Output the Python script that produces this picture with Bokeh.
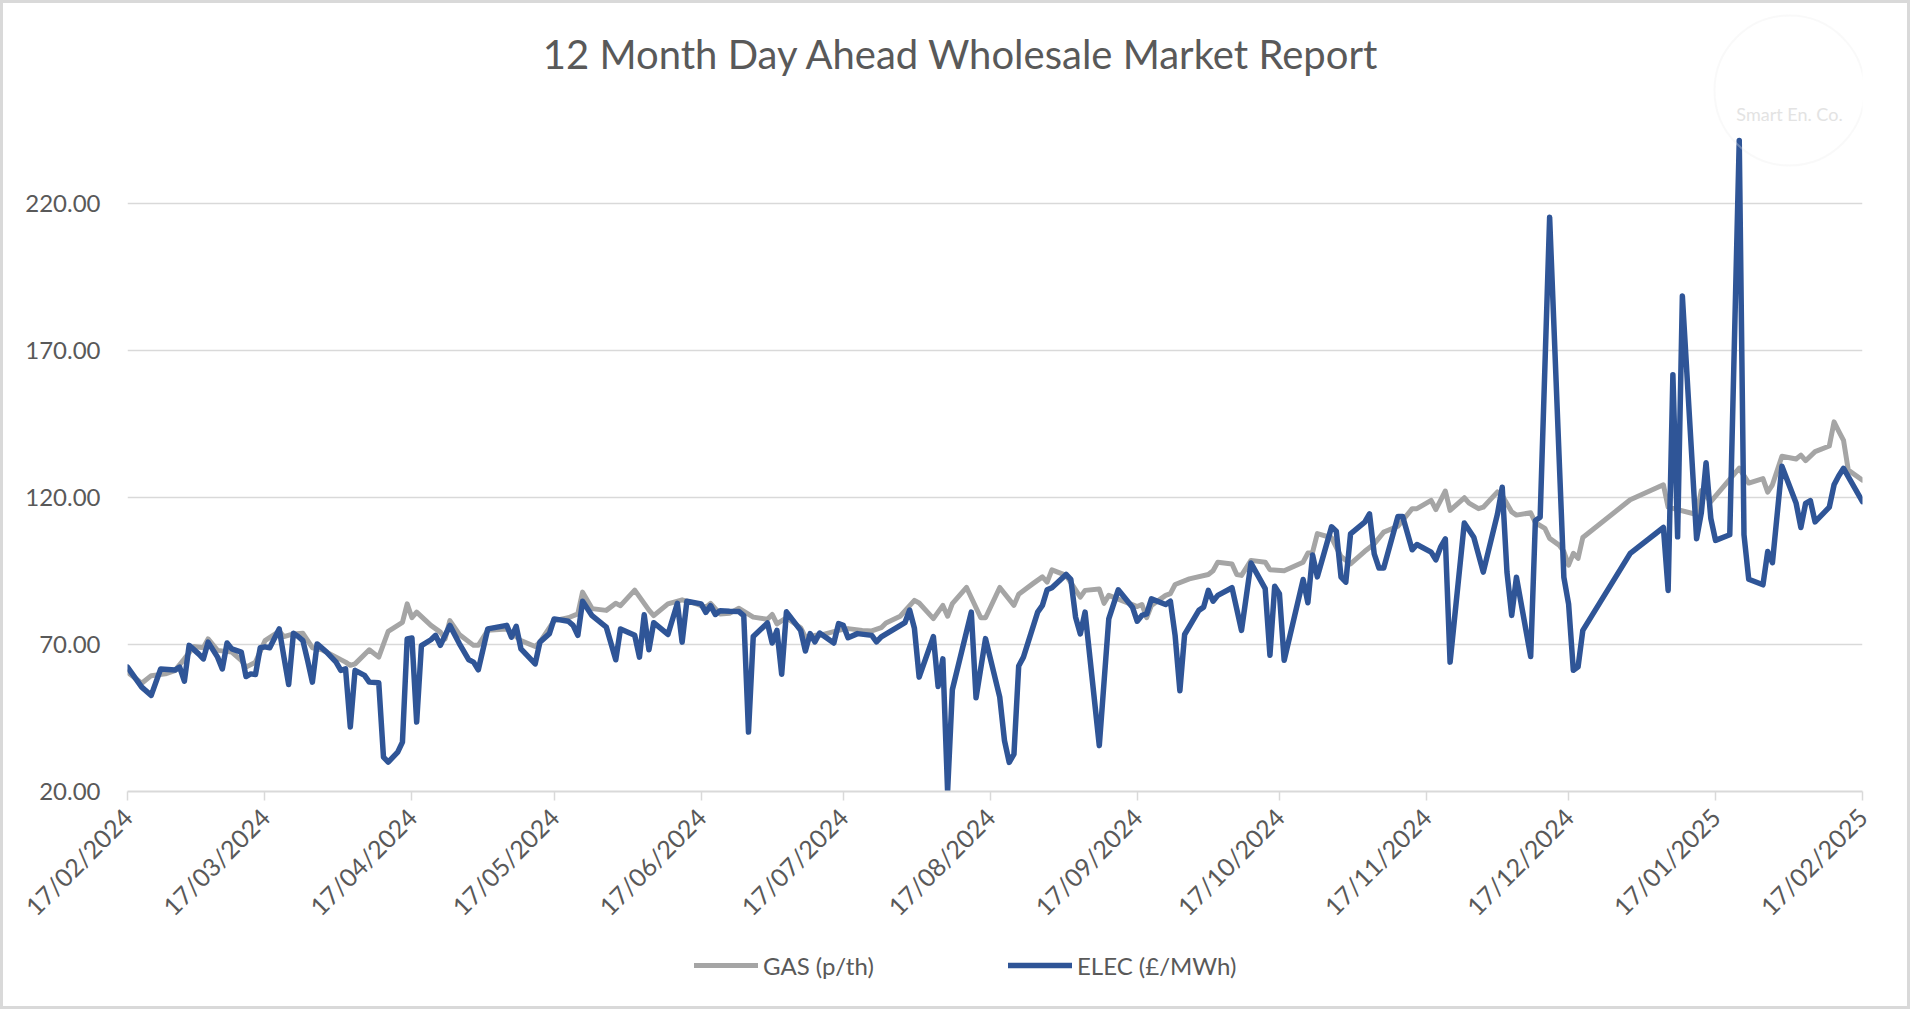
import pandas as pd
from math import pi
from bokeh.plotting import figure
from bokeh.layouts import column
from bokeh.models import (Range1d, FixedTicker, DatetimeTickFormatter, NumeralTickFormatter,
                          Legend, LegendItem, Label, BoxAnnotation, ColumnDataSource)
from bokeh.embed import file_html
from bokeh.resources import INLINE

# ---------------- data ----------------
title_text = "12 Month Day Ahead Wholesale Market Report"
series_names = ["GAS (p/th)", "ELEC (£/MWh)"]
tick_dates = ["2024-02-17", "2024-03-17", "2024-04-17", "2024-05-17", "2024-06-17", "2024-07-17",
              "2024-08-17", "2024-09-17", "2024-10-17", "2024-11-17", "2024-12-17", "2025-01-17",
              "2025-02-17"]
y_ticks = [20, 70, 120, 170, 220]

elec_dates = [
    "2024-02-17", "2024-02-20", "2024-02-22", "2024-02-24", "2024-02-27", "2024-02-28", "2024-02-29",
    "2024-03-01", "2024-03-03", "2024-03-04", "2024-03-05", "2024-03-07", "2024-03-08", "2024-03-09",
    "2024-03-10", "2024-03-12", "2024-03-13", "2024-03-14", "2024-03-15", "2024-03-16", "2024-03-17",
    "2024-03-18", "2024-03-20", "2024-03-21", "2024-03-22", "2024-03-23", "2024-03-24", "2024-03-25",
    "2024-03-26", "2024-03-27", "2024-03-28", "2024-03-30", "2024-04-01", "2024-04-02", "2024-04-03",
    "2024-04-04", "2024-04-05", "2024-04-07", "2024-04-08", "2024-04-10", "2024-04-11", "2024-04-12",
    "2024-04-14", "2024-04-15", "2024-04-16", "2024-04-17", "2024-04-18", "2024-04-19", "2024-04-21",
    "2024-04-22", "2024-04-23", "2024-04-25", "2024-04-27", "2024-04-29", "2024-04-30", "2024-05-01",
    "2024-05-03", "2024-05-07", "2024-05-08", "2024-05-09", "2024-05-10", "2024-05-13", "2024-05-14",
    "2024-05-16", "2024-05-17", "2024-05-20", "2024-05-21", "2024-05-22", "2024-05-23", "2024-05-25",
    "2024-05-28", "2024-05-30", "2024-05-31", "2024-06-03", "2024-06-04", "2024-06-05", "2024-06-06",
    "2024-06-07", "2024-06-10", "2024-06-12", "2024-06-13", "2024-06-14", "2024-06-17", "2024-06-18",
    "2024-06-19", "2024-06-20", "2024-06-21", "2024-06-23", "2024-06-25", "2024-06-26", "2024-06-27",
    "2024-06-28", "2024-07-01", "2024-07-02", "2024-07-03", "2024-07-04", "2024-07-05", "2024-07-08",
    "2024-07-09", "2024-07-10", "2024-07-11", "2024-07-12", "2024-07-15", "2024-07-16", "2024-07-17",
    "2024-07-18", "2024-07-20", "2024-07-23", "2024-07-24", "2024-07-25", "2024-07-30", "2024-07-31",
    "2024-08-01", "2024-08-02", "2024-08-05", "2024-08-06", "2024-08-07", "2024-08-08", "2024-08-09",
    "2024-08-13", "2024-08-14", "2024-08-16", "2024-08-19", "2024-08-20", "2024-08-21", "2024-08-22",
    "2024-08-23", "2024-08-24", "2024-08-27", "2024-08-28", "2024-08-29", "2024-08-30", "2024-09-02",
    "2024-09-03", "2024-09-04", "2024-09-05", "2024-09-06", "2024-09-09", "2024-09-11", "2024-09-13",
    "2024-09-16", "2024-09-17", "2024-09-18", "2024-09-19", "2024-09-20", "2024-09-23", "2024-09-24",
    "2024-09-25", "2024-09-26", "2024-09-27", "2024-09-30", "2024-10-01", "2024-10-02", "2024-10-03",
    "2024-10-04", "2024-10-07", "2024-10-09", "2024-10-11", "2024-10-14", "2024-10-15", "2024-10-16",
    "2024-10-17", "2024-10-18", "2024-10-22", "2024-10-23", "2024-10-24", "2024-10-25", "2024-10-28",
    "2024-10-29", "2024-10-30", "2024-10-31", "2024-11-01", "2024-11-04", "2024-11-05", "2024-11-06",
    "2024-11-07", "2024-11-08", "2024-11-11", "2024-11-12", "2024-11-14", "2024-11-15", "2024-11-18",
    "2024-11-19", "2024-11-20", "2024-11-21", "2024-11-22", "2024-11-25", "2024-11-27", "2024-11-29",
    "2024-12-02", "2024-12-03", "2024-12-04", "2024-12-05", "2024-12-06", "2024-12-09", "2024-12-10",
    "2024-12-11", "2024-12-13", "2024-12-16", "2024-12-17", "2024-12-18", "2024-12-19", "2024-12-20",
    "2024-12-30", "2025-01-06", "2025-01-07", "2025-01-08", "2025-01-09", "2025-01-10", "2025-01-13",
    "2025-01-14", "2025-01-15", "2025-01-16", "2025-01-17", "2025-01-20", "2025-01-22", "2025-01-23",
    "2025-01-24", "2025-01-27", "2025-01-28", "2025-01-29", "2025-01-31", "2025-02-03", "2025-02-04",
    "2025-02-05", "2025-02-06", "2025-02-07", "2025-02-10", "2025-02-11", "2025-02-12", "2025-02-13",
    "2025-02-17"]
elec_values = [
    62.3, 55.5, 52.7, 61.7, 61.3, 62.3, 57.5,
    69.7, 66.8, 65.1, 70.8, 65.7, 61.7, 70.5,
    68.5, 67.4, 59.1, 60.0, 59.8, 68.9, 69.2,
    68.9, 75.3, 65.7, 56.4, 73.8, 72.7, 71.3,
    64.5, 57.2, 70.2, 67.4, 64.0, 61.2, 61.7,
    41.9, 61.2, 59.5, 57.2, 57.0, 31.7, 30.0,
    33.4, 36.8, 71.9, 72.2, 43.6, 69.6, 71.6,
    73.1, 69.7, 76.5, 70.3, 64.8, 64.0, 61.4,
    75.3, 76.5, 72.5, 76.2, 68.5, 63.4, 70.8,
    73.7, 78.7, 77.9, 76.5, 73.1, 84.7, 79.8,
    75.9, 64.8, 75.3, 73.1, 65.7, 80.1, 68.2,
    77.4, 73.4, 84.0, 70.8, 84.7, 83.8, 80.9,
    83.2, 80.2, 81.5, 81.3, 81.2, 79.8, 40.2,
    72.7, 77.3, 70.5, 74.8, 59.9, 81.1, 74.8,
    67.8, 73.7, 70.9, 73.9, 70.5, 77.1, 76.5,
    72.3, 73.7, 73.1, 70.9, 72.6, 77.4, 81.7,
    75.5, 58.9, 72.7, 55.7, 65.1, 20.0, 54.6,
    81.0, 51.9, 72.0, 52.1, 37.3, 29.9, 32.7,
    62.7, 65.7, 81.0, 83.3, 88.6, 89.3, 93.8,
    92.1, 79.3, 73.6, 81.0, 35.6, 78.7, 88.6,
    82.7, 77.9, 79.9, 80.4, 85.5, 83.6, 84.7,
    73.0, 54.3, 73.4, 81.6, 82.7, 88.4, 84.7,
    86.7, 89.3, 74.8, 97.7, 89.0, 66.3, 89.8,
    87.3, 64.6, 92.1, 84.2, 100.4, 93.0, 110.0,
    108.5, 92.9, 91.2, 107.6, 111.6, 114.4, 100.8,
    96.0, 96.0, 113.5, 113.5, 102.2, 104.0, 101.4,
    98.8, 103.1, 105.9, 64.0, 111.3, 106.5, 94.6,
    114.4, 123.5, 94.6, 79.9, 92.9, 65.9, 112.2,
    113.3, 215.3, 92.9, 83.8, 61.2, 62.4, 74.8,
    101.0, 109.8, 88.4, 161.7, 106.6, 188.5, 106.0,
    114.8, 131.8, 112.9, 105.4, 107.3, 241.4, 107.3,
    92.2, 90.3, 101.6, 97.8, 130.6, 118.0, 109.8,
    118.0, 118.9, 111.7, 116.7, 124.3, 127.4, 129.9,
    118.6]

gas_dates = [
    "2024-02-17", "2024-02-20", "2024-02-22", "2024-02-25", "2024-02-27", "2024-02-29", "2024-03-02",
    "2024-03-04", "2024-03-05", "2024-03-07", "2024-03-10", "2024-03-12", "2024-03-13", "2024-03-15",
    "2024-03-17", "2024-03-20", "2024-03-21", "2024-03-23", "2024-03-25", "2024-03-27", "2024-03-29",
    "2024-04-01", "2024-04-03", "2024-04-04", "2024-04-05", "2024-04-08", "2024-04-10", "2024-04-12",
    "2024-04-15", "2024-04-16", "2024-04-17", "2024-04-18", "2024-04-21", "2024-04-23", "2024-04-24",
    "2024-04-25", "2024-04-27", "2024-04-30", "2024-05-01", "2024-05-03", "2024-05-07", "2024-05-10",
    "2024-05-13", "2024-05-14", "2024-05-17", "2024-05-20", "2024-05-22", "2024-05-23", "2024-05-25",
    "2024-05-28", "2024-05-30", "2024-05-31", "2024-06-03", "2024-06-06", "2024-06-07", "2024-06-10",
    "2024-06-13", "2024-06-16", "2024-06-18", "2024-06-19", "2024-06-21", "2024-06-23", "2024-06-25",
    "2024-06-28", "2024-07-01", "2024-07-02", "2024-07-03", "2024-07-05", "2024-07-08", "2024-07-09",
    "2024-07-11", "2024-07-12", "2024-07-16", "2024-07-18", "2024-07-21", "2024-07-23", "2024-07-25",
    "2024-07-26", "2024-07-29", "2024-08-01", "2024-08-02", "2024-08-05", "2024-08-07", "2024-08-08",
    "2024-08-09", "2024-08-12", "2024-08-15", "2024-08-16", "2024-08-19", "2024-08-22", "2024-08-23",
    "2024-08-26", "2024-08-28", "2024-08-29", "2024-08-30", "2024-09-02", "2024-09-05", "2024-09-06",
    "2024-09-09", "2024-09-10", "2024-09-11", "2024-09-17", "2024-09-18", "2024-09-19", "2024-09-20",
    "2024-09-23", "2024-09-24", "2024-09-25", "2024-09-28", "2024-10-02", "2024-10-03", "2024-10-04",
    "2024-10-07", "2024-10-08", "2024-10-09", "2024-10-11", "2024-10-14", "2024-10-15", "2024-10-18",
    "2024-10-22", "2024-10-23", "2024-10-24", "2024-10-25", "2024-10-28", "2024-10-30", "2024-11-01",
    "2024-11-04", "2024-11-06", "2024-11-08", "2024-11-11", "2024-11-14", "2024-11-15", "2024-11-18",
    "2024-11-19", "2024-11-21", "2024-11-22", "2024-11-25", "2024-11-26", "2024-11-28", "2024-11-29",
    "2024-12-02", "2024-12-03", "2024-12-05", "2024-12-06", "2024-12-09", "2024-12-10", "2024-12-12",
    "2024-12-13", "2024-12-15", "2024-12-16", "2024-12-17", "2024-12-18", "2024-12-19", "2024-12-20",
    "2024-12-30", "2025-01-06", "2025-01-07", "2025-01-13", "2025-01-14", "2025-01-16", "2025-01-22",
    "2025-01-24", "2025-01-27", "2025-01-28", "2025-01-29", "2025-01-31", "2025-02-03", "2025-02-04",
    "2025-02-05", "2025-02-07", "2025-02-10", "2025-02-11", "2025-02-12", "2025-02-13", "2025-02-14",
    "2025-02-17"]
gas_values = [
    60.6, 56.8, 59.4, 60.0, 61.1, 65.1, 69.3,
    68.9, 71.9, 68.0, 67.4, 64.6, 62.3, 64.0,
    71.3, 74.5, 72.7, 73.6, 73.8, 68.9, 68.2,
    65.7, 64.0, 62.9, 63.4, 68.2, 65.7, 74.5,
    77.5, 83.8, 79.1, 81.0, 76.5, 74.2, 71.9,
    78.1, 73.4, 69.7, 69.7, 74.8, 75.3, 71.3,
    69.3, 70.8, 78.1, 79.1, 80.4, 87.8, 82.2,
    81.6, 84.0, 83.2, 88.5, 81.7, 79.8, 83.8,
    85.2, 83.8, 82.6, 84.0, 80.4, 80.6, 82.3,
    79.3, 78.6, 80.2, 77.0, 79.1, 75.7, 72.5,
    73.1, 73.1, 74.8, 75.4, 74.8, 74.6, 75.7,
    77.3, 79.6, 85.0, 84.1, 78.8, 83.3, 79.6,
    83.9, 89.4, 79.1, 79.1, 89.4, 83.3, 87.1,
    90.7, 93.0, 91.2, 95.4, 93.5, 86.1, 88.4,
    88.9, 84.0, 86.7, 82.9, 83.6, 79.1, 83.3,
    86.7, 87.3, 90.4, 92.3, 93.8, 95.1, 98.0,
    97.4, 93.8, 93.5, 98.6, 98.0, 95.4, 95.1,
    98.0, 101.1, 101.4, 107.7, 106.3, 99.9, 97.4,
    101.7, 104.2, 108.2, 110.2, 116.2, 116.2, 119.0,
    115.9, 122.2, 115.6, 119.9, 118.1, 116.2, 116.7,
    121.9, 120.7, 115.1, 114.0, 114.8, 111.4, 109.5,
    106.1, 103.8, 101.6, 97.0, 101.0, 99.3, 106.4,
    119.2, 124.3, 116.7, 114.2, 122.4, 118.6, 130.0,
    124.9, 126.4, 121.8, 124.3, 134.0, 133.1, 134.4,
    132.5, 135.6, 137.5, 145.7, 142.5, 139.4, 129.3,
    125.9]

# ---------------- styling ----------------
FONT = "Lato"
TEXT = "#595959"
GRID = "#D9D9D9"
GAS_COLOR = "#A5A5A5"
ELEC_COLOR = "#2F5597"
W, H_MAIN, H_LEG = 1904, 945, 58
FRAME_BOTTOM = 788

tick_ts = pd.to_datetime(tick_dates)
p = figure(width=W, height=H_MAIN, output_backend="svg", toolbar_location=None,
           x_axis_type="datetime",
           x_range=Range1d(tick_ts[0], tick_ts[-1]),
           y_range=Range1d(20, 288),
           min_border_left=124, min_border_right=45, min_border_top=0,
           min_border_bottom=H_MAIN - FRAME_BOTTOM)
p.outline_line_color = None
p.background_fill_color = "white"
p.border_fill_color = "white"

gas_src = ColumnDataSource(dict(x=pd.to_datetime(gas_dates), y=gas_values))
elec_src = ColumnDataSource(dict(x=pd.to_datetime(elec_dates), y=elec_values))
gas_style = dict(line_color=GAS_COLOR, line_width=5, line_join="round", line_cap="round")
elec_style = dict(line_color=ELEC_COLOR, line_width=5.5, line_join="round", line_cap="round")
p.line("x", "y", source=gas_src, **gas_style)
p.line("x", "y", source=elec_src, **elec_style)

# x axis
xticks = [t.value / 1e6 for t in tick_ts]
p.xaxis.ticker = FixedTicker(ticks=xticks)
fmt = "%d/%m/%Y"
p.xaxis.formatter = DatetimeTickFormatter(days=fmt, months=fmt, years=fmt, hours=fmt,
                                          hourmin=fmt, minutes=fmt, minsec=fmt, seconds=fmt,
                                          milliseconds=fmt, microseconds=fmt)
p.xaxis.major_label_orientation = pi / 4
p.xaxis.major_label_text_font = FONT
p.xaxis.major_label_text_font_size = "25px"
p.xaxis.major_label_text_color = TEXT
p.xaxis.axis_line_color = GRID
p.xaxis.axis_line_width = 2
p.xaxis.major_tick_line_color = GRID
p.xaxis.major_tick_line_width = 1.5
p.xaxis.major_tick_out = 9
p.xaxis.major_tick_in = 0
p.xaxis.minor_tick_line_color = None
p.xaxis.minor_tick_out = 0
p.xaxis.major_label_standoff = 12
p.xgrid.grid_line_color = None

# y axis
p.yaxis.ticker = FixedTicker(ticks=y_ticks)
p.yaxis.formatter = NumeralTickFormatter(format="0.00")
p.yaxis.axis_line_color = None
p.yaxis.major_tick_line_color = None
p.yaxis.minor_tick_line_color = None
p.yaxis.major_tick_out = 0
p.yaxis.major_tick_in = 0
p.yaxis.minor_tick_out = 0
p.yaxis.major_label_standoff = 27
p.yaxis.major_label_text_font = FONT
p.yaxis.major_label_text_font_size = "24px"
p.yaxis.major_label_text_color = TEXT
p.ygrid.ticker = FixedTicker(ticks=y_ticks)
p.ygrid.grid_line_color = GRID
p.ygrid.grid_line_width = 1.5

# title (centred on whole chart, drawn inside the tall frame)
p.add_layout(Label(x=834, y=738, x_units="screen", y_units="screen", text=title_text,
                   text_align="center", text_baseline="middle", text_font=FONT,
                   text_font_size="40px", text_color=TEXT))

# watermark
p.add_layout(BoxAnnotation(left=1587, right=1737, top=776, bottom=626,
                           left_units="screen", right_units="screen",
                           top_units="screen", bottom_units="screen",
                           border_radius=75, fill_alpha=0, line_color="#EBEBEB", line_width=2))
p.add_layout(Label(x=1662, y=678, x_units="screen", y_units="screen", text="Smart En. Co.",
                   text_align="center", text_baseline="middle", text_font=FONT,
                   text_font_size="18px", text_color="#E3E3E3"))

# legend strip below the chart (same series; their data lie outside this strip's range)
pl = figure(width=W, height=H_LEG, output_backend="svg", toolbar_location=None,
            x_range=Range1d(0, 1), y_range=Range1d(0, 1), min_border=0)
pl.axis.visible = False
pl.grid.visible = False
pl.outline_line_color = None
pl.background_fill_color = "white"
pl.border_fill_color = "white"
lg_gas = pl.line("x", "y", source=gas_src, **gas_style)
lg_elec = pl.line("x", "y", source=elec_src, **elec_style)
legend = Legend(items=[LegendItem(label=series_names[0], renderers=[lg_gas]),
                       LegendItem(label=series_names[1], renderers=[lg_elec])],
                orientation="horizontal", location=(567, 26), padding=0, margin=0,
                spacing=29, glyph_width=64, glyph_height=30, label_standoff=5,
                label_height=30, label_width=216,
                label_text_font=FONT, label_text_font_size="24px", label_text_color=TEXT,
                border_line_alpha=0, background_fill_alpha=0)
pl.add_layout(legend)

layout = column(p, pl, spacing=0)
layout.styles = {"border": "3px solid #D9D9D9"}

open("out.html", "w").write(file_html(layout, INLINE))
